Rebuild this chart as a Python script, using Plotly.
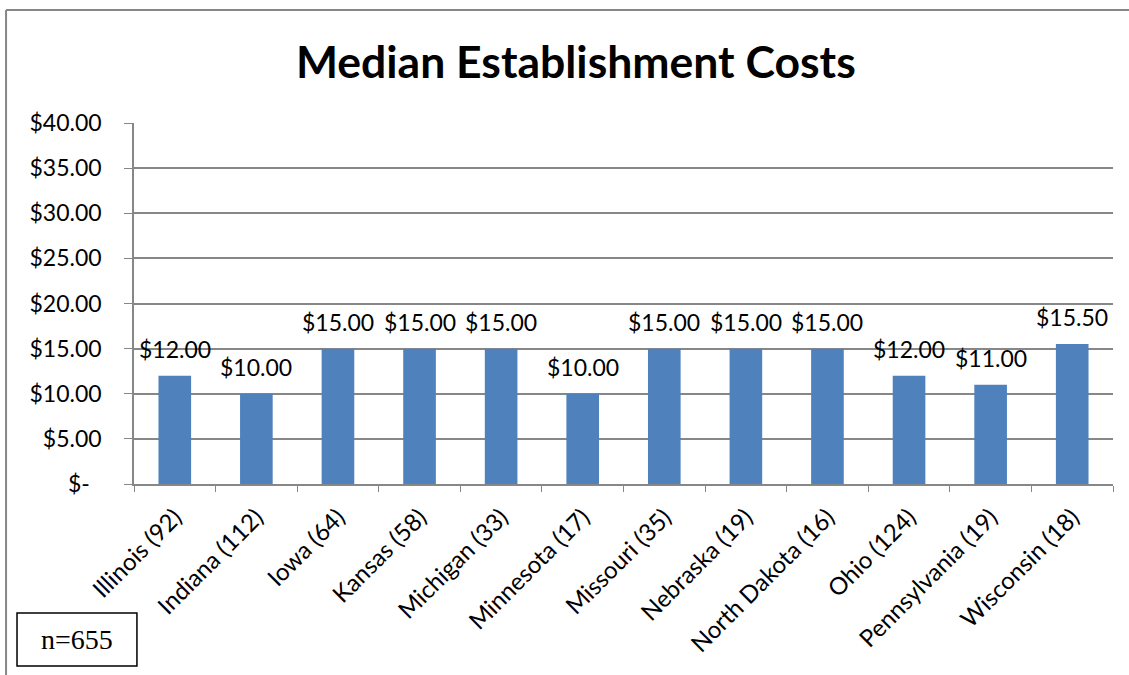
import plotly.graph_objects as go

estados = ["Illinois (92)", "Indiana (112)", "Iowa (64)", "Kansas (58)",
           "Michigan (33)", "Minnesota (17)", "Missouri (35)", "Nebraska (19)",
           "North Dakota (16)", "Ohio (124)", "Pennsylvania (19)", "Wisconsin (18)"]
custo_mediano = [12.00, 10.00, 15.00, 15.00, 15.00, 10.00, 15.00, 15.00,
                 15.00, 12.00, 11.00, 15.50]
y_ticks = [0, 5, 10, 15, 20, 25, 30, 35, 40]
y_labels = ["$-\u00a0\u00a0", "$5.00", "$10.00", "$15.00", "$20.00", "$25.00",
            "$30.00", "$35.00", "$40.00"]

FONTE = "Lato, 'Open Sans', sans-serif"
CINZA = "#878787"

fig = go.Figure()

fig.add_trace(
    go.Bar(
        x=estados,
        y=custo_mediano,
        marker=dict(color="#4F81BD", line=dict(width=0)),
        width=0.4,
        hoverinfo="x+y",
    )
)

# rótulos de valor acima das barras (Excel deixa um respiro maior que o do plotly)
rotulos = [
    dict(x=e, y=v, text=f"${v:.2f}", showarrow=False, yanchor="bottom",
         yshift=11, font=dict(family=FONTE, size=23, color="black"))
    for e, v in zip(estados, custo_mediano)
]

fig.update_layout(
    width=1129,
    height=675,
    margin=dict(l=134, r=16, t=123, b=191),
    paper_bgcolor="white",
    plot_bgcolor="white",
    showlegend=False,
    font=dict(family=FONTE, color="black"),
    title=dict(
        text="<b>Median Establishment Costs</b>",
        x=0.51,
        xanchor="center",
        y=0.908,
        yanchor="middle",
        font=dict(family=FONTE, size=44.5, color="black"),
    ),
    xaxis=dict(
        automargin=False,
        tickangle=-45,
        tickfont=dict(size=24),
        ticklabelstandoff=8,
        showline=True,
        linecolor=CINZA,
        linewidth=1.5,
        ticks="outside",
        tickson="boundaries",
        ticklen=6,
        tickcolor=CINZA,
        showgrid=False,
    ),
    yaxis=dict(
        automargin=False,
        range=[0, 40],
        tickvals=y_ticks,
        ticktext=y_labels,
        tickfont=dict(size=23),
        ticklabelstandoff=18,
        showline=True,
        linecolor=CINZA,
        linewidth=1.5,
        ticks="outside",
        ticklen=8,
        tickcolor=CINZA,
        showgrid=True,
        gridcolor=CINZA,
        gridwidth=1.5,
        zeroline=False,
    ),
    shapes=[
        # moldura do gráfico (só topo e esquerda, como no original)
        dict(type="line", xref="paper", yref="paper",
             x0=-0.1307, x1=1.0164, y0=1.313, y1=1.313,
             line=dict(color=CINZA, width=2)),
        dict(type="line", xref="paper", yref="paper",
             x0=-0.1307, x1=-0.1307, y0=1.313, y1=-0.55,
             line=dict(color=CINZA, width=2)),
        # caixa do n
        dict(type="rect", xref="paper", yref="paper",
             x0=-0.1195, x1=0.003, y0=-0.357, y1=-0.504,
             line=dict(color="black", width=1.5), fillcolor="white"),
    ],
    annotations=rotulos + [
        dict(text="n=655", xref="paper", yref="paper",
             x=-0.058, y=-0.432, showarrow=False,
             xanchor="center", yanchor="middle",
             font=dict(family="'Liberation Serif', serif", size=28, color="black")),
    ],
)

fig.write_html(
    "out.html",
    config={"displayModeBar": False},
    post_script="document.body.style.margin='0';document.body.style.overflow='hidden';",
)
